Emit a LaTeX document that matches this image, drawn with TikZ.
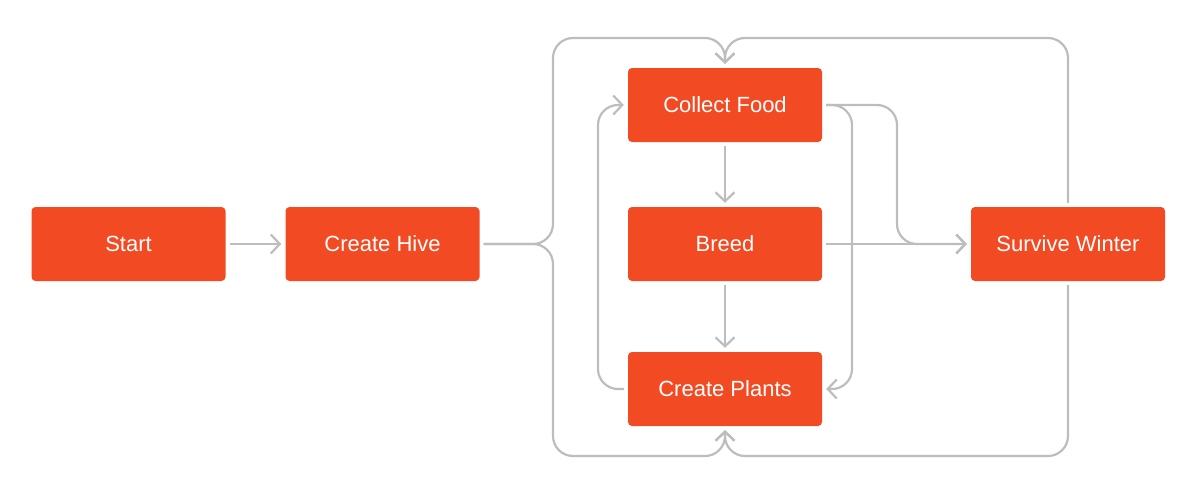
\documentclass[tikz,border=0pt]{standalone}
\usepackage{fontspec}
\setmainfont{Liberation Sans}
\usetikzlibrary{arrows.meta}
\definecolor{boxfill}{HTML}{F24A22}
\definecolor{linegray}{HTML}{BDBDBD}
\tikzset{
  box/.style={fill=boxfill, rounded corners=4pt, minimum width=194pt, minimum height=74pt, inner sep=0pt, text=white, font=\fontsize{22}{25}\selectfont},
  conn/.style={draw=linegray, line width=2.2pt, rounded corners=20pt, -{Straight Barb[length=9pt,width=19pt,line width=2.2pt]}, shorten <=4pt, shorten >=4pt}
}
\begin{document}
\begin{tikzpicture}[x=1pt,y=-1pt]
\useasboundingbox (0,0) rectangle (1196,482);
\node[box] (start) at (128.5,244) {Start};
\node[box] (hive) at (382.5,244) {Create Hive};
\node[box] (food) at (725,105) {Collect Food};
\node[box] (breed) at (725,244) {Breed};
\node[box] (plants) at (725,389) {Create Plants};
\node[box] (winter) at (1068,244) {Survive Winter};
\coordinate (bl) at (553,244);
\draw[conn] (start) -- (hive);
\draw[conn] (hive.east) -- (bl) -- (553,38) -- (725,38) -- (food.north);
\draw[conn] (hive.east) -- (bl) -- (553,456) -- (725,456) -- (plants.south);
\draw[conn] (winter.north) -- (1068,38) -- (725,38) -- (food.north);
\draw[conn] (winter.south) -- (1068,456) -- (725,456) -- (plants.south);
\draw[conn] (plants.west) -- (598,389) -- (598,105) -- (food.west);
\draw[conn] (food.east) -- (852,105) -- (852,389) -- (plants.east);
\draw[conn] (food.east) -- (897,105) -- (897,244) -- (winter.west);
\draw[conn] (breed) -- (winter);
\draw[conn] (food) -- (breed);
\draw[conn] (breed) -- (plants);
\end{tikzpicture}
\end{document}
